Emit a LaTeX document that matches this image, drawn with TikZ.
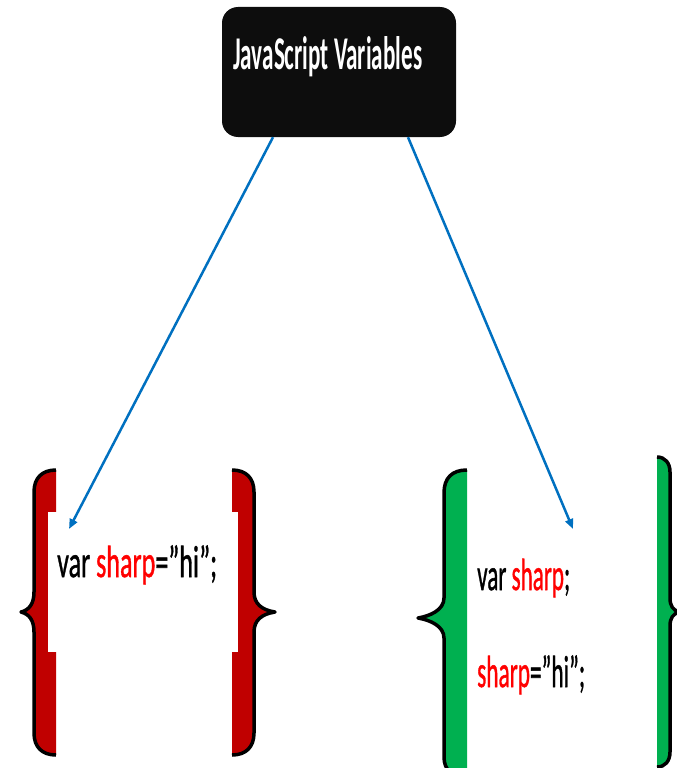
\documentclass[tikz,border=0pt]{standalone}
\usepackage{fontspec}
\setmainfont{Carlito}
\newfontfamily\codefont[FakeBold=1.2]{Carlito}
\usetikzlibrary{arrows.meta,calc}
\definecolor{bred}{HTML}{C00000}
\definecolor{bgreen}{HTML}{00B050}
\definecolor{ablue}{HTML}{0070C0}
\definecolor{cred}{HTML}{FF0000}
\definecolor{boxblack}{HTML}{0D0D0D}
\begin{document}
\begin{tikzpicture}[x=1pt,y=-1pt,
  titlebox/.style={fill=boxblack, rounded corners=16pt, minimum width=234pt, minimum height=130pt, inner sep=0pt},
  titletext/.style={anchor=base west, inner sep=0pt, text=white, font=\bfseries\fontsize{47}{47}\selectfont},
  codetext/.style={anchor=base west, inner sep=0pt, font=\codefont\fontsize{#1}{#1}\selectfont},
  arrowline/.style={draw=ablue, line width=2.5pt, -{Triangle[length=10pt,width=8pt]}},
  braceline/.style={draw=black, line width=3.5pt, line join=round}]
\useasboundingbox (0,0) rectangle (677,768);

% title
\node[titlebox] (title) at (339,72) {};
\node[titletext] (tt) at (233,70) {\resizebox{189pt}{\height}{JavaScript Variables}};

% red braces
\fill[bred] (56,470) .. controls (42,470) and (34,478) .. (34,492) -- (34,592) .. controls (34,604) and (29,610) .. (21,612) .. controls (29,614) and (34,620) .. (34,632) -- (34,733) .. controls (34,747) and (42,755) .. (56,755) -- cycle;
\draw[braceline] (56,470) .. controls (42,470) and (34,478) .. (34,492) -- (34,592) .. controls (34,604) and (29,610) .. (21,612) .. controls (29,614) and (34,620) .. (34,632) -- (34,733) .. controls (34,747) and (42,755) .. (56,755);
\fill[bred] (232,470) .. controls (246,470) and (254,478) .. (254,492) -- (254,592) .. controls (254,604) and (262,610) .. (275,612) .. controls (262,614) and (254,620) .. (254,632) -- (254,733) .. controls (254,747) and (246,755) .. (232,755) -- cycle;
\draw[braceline] (232,470) .. controls (246,470) and (254,478) .. (254,492) -- (254,592) .. controls (254,604) and (262,610) .. (275,612) .. controls (262,614) and (254,620) .. (254,632) -- (254,733) .. controls (254,747) and (246,755) .. (232,755);
\fill[white] (48,512) rectangle (238,652);

% green braces
\fill[bgreen] (467,470) .. controls (452,470) and (444,478) .. (444,493) -- (444,598) .. controls (444,610) and (430,616) .. (418,618) .. controls (430,620) and (444,626) .. (444,638) -- (444,757) .. controls (444,770) and (452,777) .. (467,777) -- cycle;
\draw[braceline] (467,470) .. controls (452,470) and (444,478) .. (444,493) -- (444,598) .. controls (444,610) and (430,616) .. (418,618) .. controls (430,620) and (444,626) .. (444,638) -- (444,757) .. controls (444,770) and (452,777) .. (467,777);
\fill[bgreen] (657,457) .. controls (665,457) and (670,463) .. (670,472) -- (670,598) .. controls (670,606) and (673,610) .. (679,612) .. controls (673,614) and (670,618) .. (670,626) -- (670,752) .. controls (670,761) and (665,767) .. (657,767) -- cycle;
\draw[braceline] (657,457) .. controls (665,457) and (670,463) .. (670,472) -- (670,598) .. controls (670,606) and (673,610) .. (679,612) .. controls (673,614) and (670,618) .. (670,626) -- (670,752) .. controls (670,761) and (665,767) .. (657,767);

% code
\node[codetext=45] (c1) at (57,577) {\resizebox{160pt}{\height}{var \textcolor{cred}{sharp}=”hi”;}};
\node[codetext=45] (c2) at (477,590) {\resizebox{93pt}{\height}{var \textcolor{cred}{sharp};}};
\node[codetext=45] (c3) at (477,687) {\resizebox{108pt}{\height}{\textcolor{cred}{sharp}=”hi”;}};

% arrows
\coordinate (la) at (69,529);
\coordinate (ra) at (573,529);
\draw[arrowline] ([xshift=-66pt]title.south) -- (la);
\draw[arrowline] ([xshift=69pt]title.south) -- (ra);
\end{tikzpicture}
\end{document}
